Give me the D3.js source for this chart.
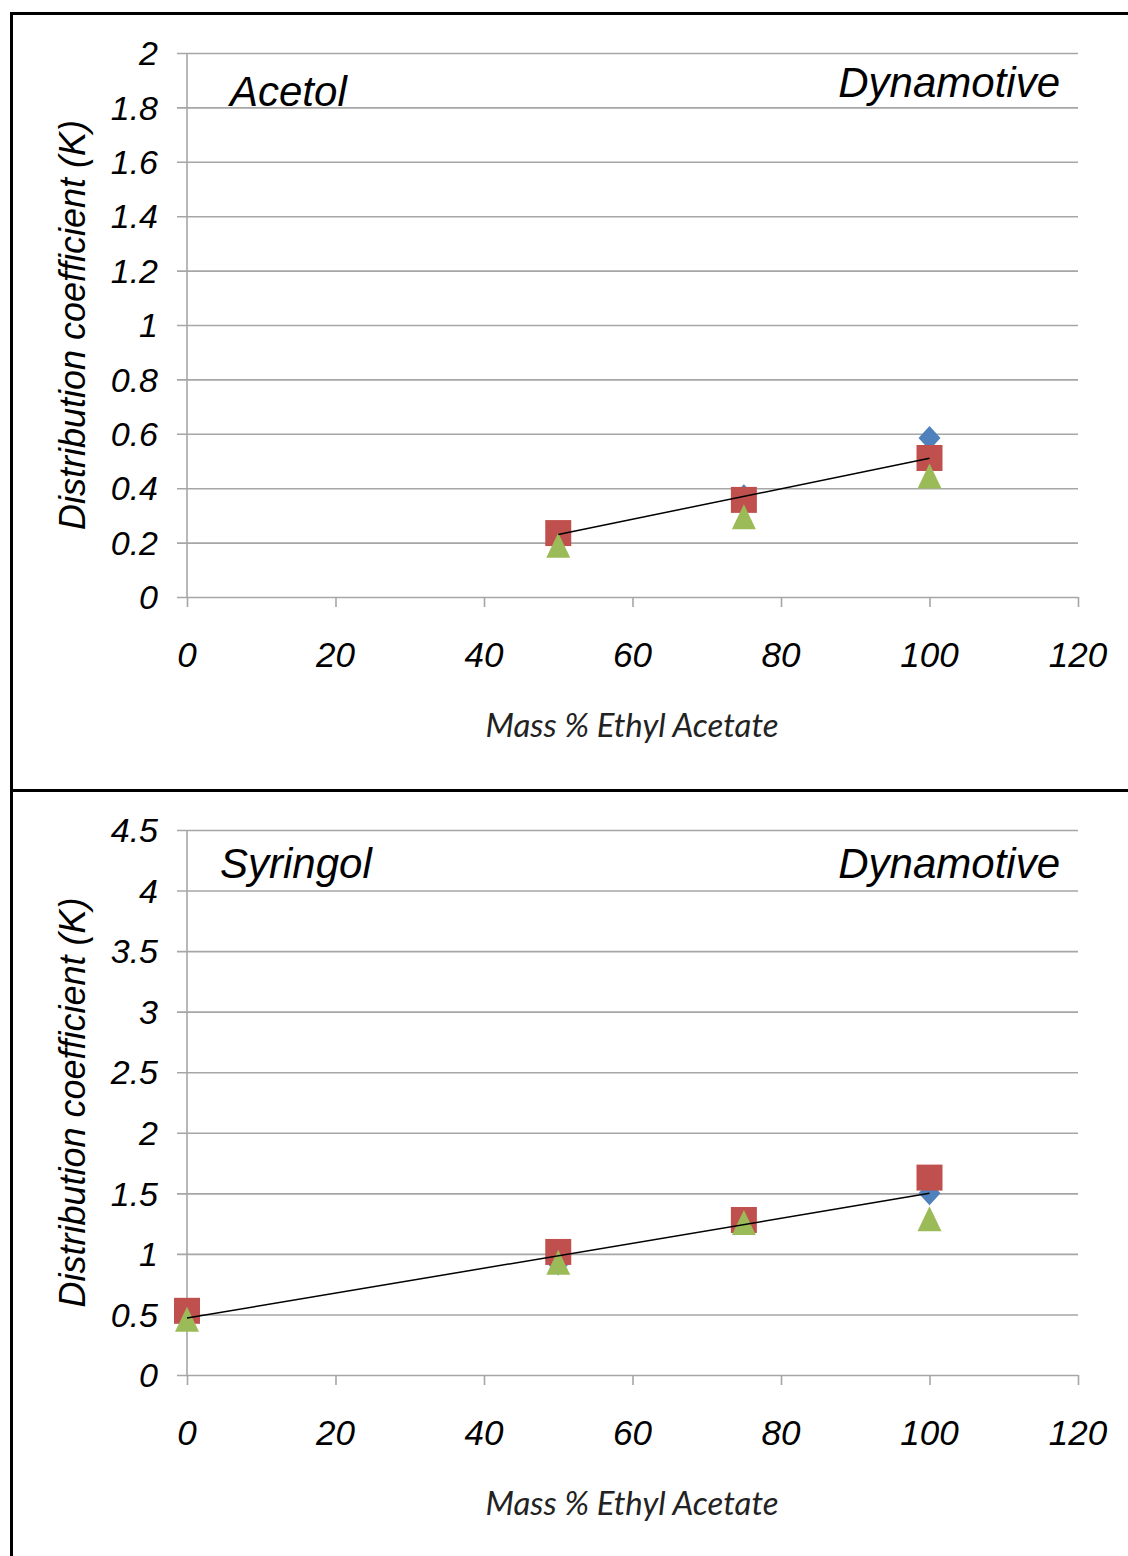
<!DOCTYPE html>
<html lang="en">
<head>
  <meta charset="UTF-8" />
  <title>Distribution coefficient vs Mass % Ethyl Acetate</title>
  <script src="https://cdn.jsdelivr.net/npm/d3@7"></script>
  <style>
    body { margin: 0; background: #fff; }
    .tick-label { font: italic 34px "Liberation Sans", Arial, sans-serif; fill: #000; }
    .panel-title { font: italic 42px "Liberation Sans", Arial, sans-serif; fill: #000; }
    .x-title { font: italic 33px Lato, "Open Sans", sans-serif; fill: #222; }
    .y-title { font: italic 36px "Liberation Sans", Arial, sans-serif; fill: #000; }
  </style>
</head>
<body>
<script>
  // x categories (mass % ethyl acetate) and series values
  const xTicks = [0, 20, 40, 60, 80, 100, 120];

  const acetolX = [50, 75, 100];
  const acetolBlue = [0.21, 0.37, 0.585];
  const acetolRed = [0.235, 0.357, 0.511];
  const acetolGreen = [0.19, 0.295, 0.445];
  const acetolTrend = [[50, 0.23], [100, 0.51]];
  const acetolYTicks = [0, 0.2, 0.4, 0.6, 0.8, 1, 1.2, 1.4, 1.6, 1.8, 2];

  const syringolX = [0, 50, 75, 100];
  const syringolBlue = [0.5, 0.92, 1.27, 1.5];
  const syringolRed = [0.53, 1.016, 1.28, 1.63];
  const syringolGreen = [0.46, 0.93, 1.26, 1.29];
  const syringolTrend = [[0, 0.47], [100, 1.5]];
  const syringolYTicks = [0, 0.5, 1, 1.5, 2, 2.5, 3, 3.5, 4, 4.5];

  const colors = { blue: "#4F81BD", red: "#C0504D", green: "#9BBB59" };

  const W = 1128, H = 1556;
  const svg = d3.select("body").append("svg").attr("width", W).attr("height", H);

  // frame lines
  const frame = svg.append("g").attr("stroke", "#000").attr("stroke-width", 3);
  frame.append("line").attr("x1", 11).attr("x2", W).attr("y1", 13.5).attr("y2", 13.5);
  frame.append("line").attr("x1", 11).attr("x2", W).attr("y1", 790.5).attr("y2", 790.5);
  frame.append("line").attr("x1", 11.5).attr("x2", 11.5).attr("y1", 12).attr("y2", H);

  const shapes = {
    diamond: "M0,-12L11,0L0,12L-11,0Z",
    square: "M-13,-13H13V13H-13Z",
    triangle: "M0,-12.5L12,12.5H-12Z"
  };

  function panel(opt) {
    const x = d3.scaleLinear().domain([0, 120]).range([187, 1078]);
    const y = d3.scaleLinear().domain([0, d3.max(opt.yTicks)]).range([opt.bottom, opt.top]);
    const g = svg.append("g");

    // horizontal gridlines with outward tick stubs
    g.append("g")
      .attr("transform", `translate(${x(0)},0)`)
      .call(d3.axisLeft(y).tickValues(opt.yTicks).tickSize(-(x(120) - x(0))).tickSizeOuter(0).tickFormat(""))
      .call(a => a.select(".domain").remove())
      .call(a => a.selectAll(".tick line").attr("x1", -10).attr("stroke", "#a6a6a6").attr("stroke-width", 1.6));

    // y axis line
    g.append("line").attr("x1", x(0)).attr("x2", x(0)).attr("y1", opt.top).attr("y2", opt.bottom)
      .attr("stroke", "#a6a6a6").attr("stroke-width", 1.6);

    // x axis ticks
    g.append("g")
      .attr("transform", `translate(0,${opt.bottom})`)
      .call(d3.axisBottom(x).tickValues(xTicks).tickSize(10).tickSizeOuter(0).tickFormat(""))
      .call(a => a.select(".domain").remove())
      .call(a => a.selectAll(".tick line").attr("stroke", "#a6a6a6").attr("stroke-width", 1.6));

    // y tick labels
    g.selectAll(".ylab").data(opt.yTicks).enter().append("text")
      .attr("class", "tick-label")
      .attr("x", 158).attr("y", d => y(d)).attr("dy", "0.36em")
      .attr("text-anchor", "end").text(d => d);

    // x tick labels
    g.selectAll(".xlab").data(xTicks).enter().append("text")
      .attr("class", "tick-label")
      .style("font-size", "35px")
      .attr("x", d => x(d)).attr("y", opt.bottom + 57).attr("dy", "0.36em")
      .attr("text-anchor", "middle").text(d => d);

    g.append("text").attr("class", "x-title")
      .attr("x", 632).attr("y", opt.bottom + 128).attr("dy", "0.36em")
      .attr("text-anchor", "middle").text("Mass % Ethyl Acetate");

    g.append("text").attr("class", "y-title")
      .attr("transform", `translate(72,${(opt.top + opt.bottom) / 2}) rotate(-90)`)
      .attr("dy", "0.36em").attr("text-anchor", "middle")
      .text("Distribution coefficient (K)");

    g.append("text").attr("class", "panel-title")
      .attr("x", opt.nameX).attr("y", opt.nameY).text(opt.name);
    g.append("text").attr("class", "panel-title")
      .attr("x", 1060).attr("y", opt.dynY).attr("text-anchor", "end").text("Dynamotive");

    const series = [
      { vals: opt.blue, shape: shapes.diamond, color: colors.blue },
      { vals: opt.red, shape: shapes.square, color: colors.red },
      { vals: opt.green, shape: shapes.triangle, color: colors.green }
    ];
    series.forEach(s => {
      g.selectAll(null).data(opt.xs.map((v, i) => [v, s.vals[i]])).enter().append("path")
        .attr("d", s.shape)
        .attr("fill", s.color)
        .attr("transform", d => `translate(${x(d[0])},${y(d[1])})`);
    });

    g.append("path")
      .datum(opt.trend)
      .attr("fill", "none").attr("stroke", "#000").attr("stroke-width", 1.5)
      .attr("d", d3.line().x(d => x(d[0])).y(d => y(d[1])));
  }

  panel({
    top: 53, bottom: 597, yTicks: acetolYTicks,
    xs: acetolX, blue: acetolBlue, red: acetolRed, green: acetolGreen, trend: acetolTrend,
    name: "Acetol", nameX: 230, nameY: 106, dynY: 97
  });

  panel({
    top: 830, bottom: 1375, yTicks: syringolYTicks,
    xs: syringolX, blue: syringolBlue, red: syringolRed, green: syringolGreen, trend: syringolTrend,
    name: "Syringol", nameX: 220, nameY: 878, dynY: 878
  });
</script>
</body>
</html>
